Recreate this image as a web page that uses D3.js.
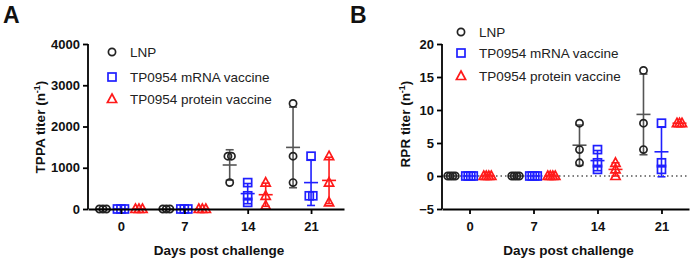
<!DOCTYPE html>
<html>
<head>
<meta charset="utf-8">
<script src="https://cdn.jsdelivr.net/npm/d3@7"></script>
<style>
  body { margin: 0; background: #fff; }
  svg { font-family: "Liberation Sans", Arial, sans-serif; }
</style>
</head>
<body>
<svg id="canvas" width="692" height="259"></svg>
<script>
let days = [0, 7, 14, 21]
let groups = ["LNP", "TP0954 mRNA vaccine", "TP0954 protein vaccine"]
let colors = ["#222222", "#1f1fff", "#ff1a1a"]
let barColors = ["#555555", "#1f1fff", "#ff1a1a"]

// TPPA titers, one list per group, one inner list per day
let tppaLNP     = [[0, 0, 0], [0, 0, 0], [1280, 1280, 640], [2560, 1280, 640]]
let tppaMRNA    = [[0, 0, 0], [0, 0, 0], [640, 320, 160], [1280, 320, 320]]
let tppaProtein = [[0, 0, 0], [0, 0, 0], [640, 320, 80], [1280, 640, 160]]
let tppaTicks = [0, 1000, 2000, 3000, 4000]

// RPR titers
let rprLNP     = [[0, 0, 0, 0], [0, 0, 0, 0], [8, 4, 2], [16, 8, 4]]
let rprMRNA    = [[0, 0, 0, 0], [0, 0, 0, 0], [4, 2, 1], [8, 2, 1]]
let rprProtein = [[0, 0, 0, 0], [0, 0, 0, 0], [2, 1, 0], [8, 8, 8]]
let rprTicks = [-5, 0, 5, 10, 15, 20]

let svg = d3.select("#canvas")

let symbol = (g, i, x, y) => {
    if (i === 0) {
        g.append("circle").attr("cx", x).attr("cy", y).attr("r", 3.6)
            .attr("fill", "none").attr("stroke", colors[0]).attr("stroke-width", 1.7)
    } else if (i === 1) {
        g.append("rect").attr("x", x - 4).attr("y", y - 4).attr("width", 8).attr("height", 8)
            .attr("fill", "none").attr("stroke", colors[1]).attr("stroke-width", 1.7)
    } else {
        g.append("path")
            .attr("d", `M${x},${y - 5}L${x + 4.6},${y + 3.5}L${x - 4.6},${y + 3.5}Z`)
            .attr("fill", "none").attr("stroke", colors[2]).attr("stroke-width", 1.7)
    }
}

let panel = (opt) => {
    let g = svg.append("g")

    let x = d3.scalePoint().domain(days).range(opt.xRange).padding(opt.pad)
    let off = d3.scaleBand().domain(groups).range([-27, 27])
    let y = d3.scaleLinear().domain(opt.yDomain).range([209, 44])

    // zero reference line
    if (opt.dotted) {
        g.append("line")
            .attr("x1", opt.xRange[0]).attr("x2", opt.xRange[1])
            .attr("y1", y(0)).attr("y2", y(0))
            .attr("stroke", "#555").attr("stroke-width", 1.5)
            .attr("stroke-dasharray", "1.5,3")
    }

    opt.data.forEach((byDay, gi) => {
        byDay.forEach((vals, di) => {
            let cx = x(days[di]) + off(groups[gi]) + off.bandwidth() / 2
            let mean = d3.mean(vals)
            let sd = d3.deviation(vals) || 0
            let bar = g.append("g").attr("stroke", barColors[gi]).attr("stroke-width", 1.6)
            if (sd > 0) {
                bar.append("line").attr("x1", cx).attr("x2", cx)
                    .attr("y1", y(mean - sd)).attr("y2", y(mean + sd))
                bar.append("line").attr("x1", cx - 4).attr("x2", cx + 4)
                    .attr("y1", y(mean - sd)).attr("y2", y(mean - sd))
                bar.append("line").attr("x1", cx - 4).attr("x2", cx + 4)
                    .attr("y1", y(mean + sd)).attr("y2", y(mean + sd))
            }
            bar.append("line").attr("x1", cx - 7).attr("x2", cx + 7)
                .attr("y1", y(mean)).attr("y2", y(mean))

            // spread equal values sideways like the original
            let counts = d3.rollup(vals, v => v.length, v => v)
            let seen = new Map()
            vals.forEach(v => {
                let m = counts.get(v)
                let k = seen.get(v) || 0
                seen.set(v, k + 1)
                let dx = (k - (m - 1) / 2) * opt.spread
                symbol(g, gi, cx + dx, y(v))
            })
        })
    })

    // axes
    let yAxis = g.append("g")
        .attr("transform", `translate(${opt.xRange[0]},0)`)
        .call(d3.axisLeft(y).tickValues(opt.ticks).tickFormat(d3.format("d")).tickSize(5).tickPadding(3))
    let xAxis = g.append("g")
        .attr("transform", `translate(0,${opt.xAxisY(y)})`)
        .call(d3.axisBottom(x).tickSize(5).tickPadding(opt.xPad).tickSizeOuter(0))
    ;[yAxis, xAxis].forEach(a => {
        a.selectAll("path, line").attr("stroke", "#000").attr("stroke-width", 1.8)
        a.selectAll("text").attr("fill", "#111").attr("font-size", 13)
            .attr("font-weight", "bold").attr("font-family", "Liberation Sans, Arial, sans-serif")
    })
    yAxis.select(".domain").attr("d", `M-0,209V44`)

    // titles
    let yt = g.append("text")
        .attr("transform", `translate(${opt.yTitleX},${opt.yTitleY}) rotate(-90)`)
        .attr("text-anchor", "middle").attr("font-size", 13.5).attr("font-weight", "bold").attr("fill", "#111")
    yt.append("tspan").text(opt.yTitle + " (n")
    yt.append("tspan").text("-1").attr("font-size", 9).attr("dy", -5)
    yt.append("tspan").text(")").attr("dy", 5)

    g.append("text").attr("x", (opt.xRange[0] + opt.xRange[1]) / 2 + 3).attr("y", 255)
        .attr("text-anchor", "middle").attr("font-size", 13.5).attr("font-weight", "bold")
        .attr("fill", "#111").text("Days post challenge")

    g.append("text").attr("x", opt.letterX).attr("y", 23).attr("font-size", 23)
        .attr("font-weight", "bold").attr("fill", "#111").text(opt.letter)

    // legend
    groups.forEach((name, i) => {
        let ly = opt.legY[i]
        symbol(g, i, opt.legX, ly)
        g.append("text").attr("x", opt.legX + 18).attr("y", ly + 5)
            .attr("font-size", 13.5).attr("fill", "#222").text(name)
    })
}

panel({
    letter: "A", letterX: 3,
    data: [tppaLNP, tppaMRNA, tppaProtein],
    xRange: [88, 344], pad: 0.52,
    yDomain: [0, 4000], ticks: tppaTicks,
    xAxisY: y => y(0), xPad: 8,
    yTitle: "TPPA titer", yTitleX: 45, yTitleY: 127,
    legX: 112, legY: [52, 77, 99],
    spread: 3.5, dotted: false
})

panel({
    letter: "B", letterX: 350,
    data: [rprLNP, rprMRNA, rprProtein],
    xRange: [442, 689], pad: 0.43,
    yDomain: [-5, 20], ticks: rprTicks,
    xAxisY: y => 209, xPad: 8,
    yTitle: "RPR titer", yTitleX: 410, yTitleY: 124,
    legX: 461, legY: [32, 53, 76],
    spread: 2.5, dotted: true
})
</script>
</body>
</html>
